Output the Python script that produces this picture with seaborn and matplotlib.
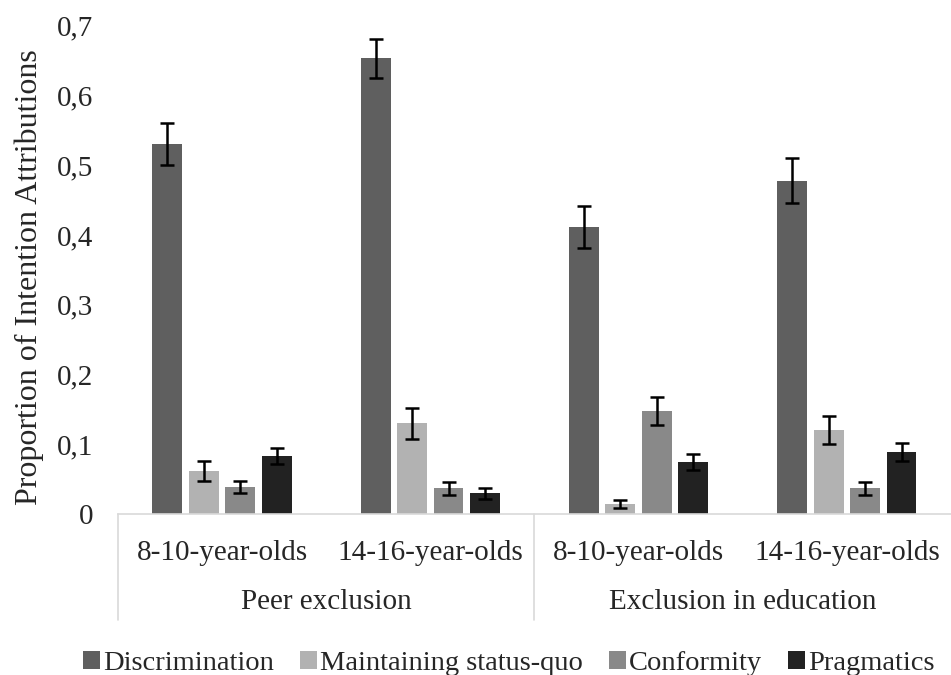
import matplotlib
matplotlib.use("Agg")
import matplotlib.pyplot as plt
from matplotlib.patches import Patch
import seaborn as sns
import pandas as pd

# Age groups within each exclusion context
age_groups = ["8-10-year-olds", "14-16-year-olds", "8-10-year-olds", "14-16-year-olds"]
contexts = ["Peer exclusion", "Exclusion in education"]
cells = ["peer_8_10", "peer_14_16", "edu_8_10", "edu_14_16"]
attributions = ["Discrimination", "Maintaining status-quo", "Conformity", "Pragmatics"]

# Mean proportions per attribution type (one value per cell)
discrimination = [0.530, 0.653, 0.412, 0.478]
status_quo = [0.062, 0.130, 0.014, 0.121]
conformity = [0.039, 0.037, 0.148, 0.037]
pragmatics = [0.083, 0.030, 0.075, 0.089]

# Standard errors
discrimination_se = [0.030, 0.0275, 0.030, 0.0325]
status_quo_se = [0.014, 0.0225, 0.006, 0.020]
conformity_se = [0.009, 0.0095, 0.020, 0.0095]
pragmatics_se = [0.012, 0.008, 0.0115, 0.013]

y_ticks = [0, 0.1, 0.2, 0.3, 0.4, 0.5, 0.6, 0.7]
y_tick_labels = ["0", "0,1", "0,2", "0,3", "0,4", "0,5", "0,6", "0,7"]

colors = ["#5f5f5f", "#b2b2b2", "#898989", "#222222"]

means = [discrimination, status_quo, conformity, pragmatics]
ses = [discrimination_se, status_quo_se, conformity_se, pragmatics_se]

rows = []
for name, vals, errs in zip(attributions, means, ses):
    for cell, v, e in zip(cells, vals, errs):
        rows.append({"cell": cell, "attribution": name, "mean": v, "se": e})
df = pd.DataFrame(rows)

sns.set_style("white")
plt.rcParams["font.family"] = ["Liberation Serif", "DejaVu Serif"]
plt.rcParams["font.size"] = 21

fig = plt.figure(figsize=(9.51, 6.75), dpi=100)
ax = fig.add_axes([0.124, 0.2385, 0.876, 0.7235])

sns.barplot(data=df, x="cell", y="mean", hue="attribution", order=cells,
            hue_order=attributions, palette=colors, width=0.7, gap=0.18,
            errorbar=None, linewidth=0, ax=ax, legend=False)

# Standard-error whiskers on each bar
for container, errs in zip(ax.containers, ses):
    for bar, e in zip(container, errs):
        cx = bar.get_x() + bar.get_width() / 2
        ax.errorbar(cx, bar.get_height(), yerr=e, fmt="none", ecolor="black",
                    elinewidth=1.8, capsize=4.8, capthick=1.8, zorder=5)

ax.set_xlim(-0.5, 3.5)
ax.set_ylim(0, 0.7)
ax.set_yticks(y_ticks)
ax.set_yticklabels(y_tick_labels, fontsize=21)
ax.set_xticks(range(len(cells)))
ax.set_xticklabels(age_groups, fontsize=21)
ax.tick_params(axis="y", length=0, pad=18)
ax.tick_params(axis="x", length=0, pad=19)
ax.set_xlabel("")
ax.set_ylabel("Proportion of Intention Attributions", fontsize=23)
ax.yaxis.set_label_coords(-0.089, 0.485)

for side in ["top", "right", "left"]:
    ax.spines[side].set_visible(False)
ax.spines["bottom"].set_color("#d9d9d9")
ax.spines["bottom"].set_linewidth(1.2)

# Second level of the category axis: context labels and separators
trans = ax.get_xaxis_transform()
for i, ctx in enumerate(contexts):
    ax.text(0.5 + 2 * i, -0.180, ctx, transform=trans, ha="center", va="center",
            fontsize=21)
for xs in [-0.5, 1.5]:
    ax.plot([xs, xs], [0, -0.217], transform=trans, color="#d9d9d9",
            linewidth=1.2, clip_on=False)

handles = [Patch(facecolor=c, edgecolor="none") for c in colors]
fig.legend(handles, attributions, loc="center", bbox_to_anchor=(0.535, 0.017),
           ncol=4, frameon=False, fontsize=20.5, handlelength=0.6,
           handleheight=0.6, handletextpad=0.12, columnspacing=0.9)

fig.savefig("out.png", dpi=100)
